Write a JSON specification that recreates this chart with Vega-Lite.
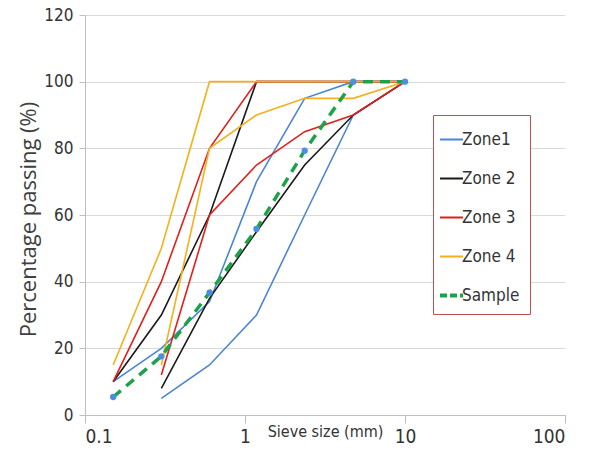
{
  "$schema": "https://vega.github.io/schema/vega-lite/v6.json",
  "width": 480,
  "height": 400,
  "autosize": {"type": "none"},
  "padding": {"left": 85, "top": 15, "right": 25, "bottom": 44},
  "background": "white",
  "config": {"view": {"stroke": null}},
  "data": {
    "values": [
      {"zone": "Zone1", "series": "Zone1 upper", "size": 0.15, "pass": 10},
      {"zone": "Zone1", "series": "Zone1 upper", "size": 0.3, "pass": 20},
      {"zone": "Zone1", "series": "Zone1 upper", "size": 0.6, "pass": 34},
      {"zone": "Zone1", "series": "Zone1 upper", "size": 1.18, "pass": 70},
      {"zone": "Zone1", "series": "Zone1 upper", "size": 2.36, "pass": 95},
      {"zone": "Zone1", "series": "Zone1 upper", "size": 4.75, "pass": 100},
      {"zone": "Zone1", "series": "Zone1 upper", "size": 10, "pass": 100},
      {"zone": "Zone1", "series": "Zone1 lower", "size": 0.3, "pass": 5},
      {"zone": "Zone1", "series": "Zone1 lower", "size": 0.6, "pass": 15},
      {"zone": "Zone1", "series": "Zone1 lower", "size": 1.18, "pass": 30},
      {"zone": "Zone1", "series": "Zone1 lower", "size": 2.36, "pass": 60},
      {"zone": "Zone1", "series": "Zone1 lower", "size": 4.75, "pass": 90},
      {"zone": "Zone1", "series": "Zone1 lower", "size": 10, "pass": 100},
      {"zone": "Zone 2", "series": "Zone 2 upper", "size": 0.15, "pass": 10},
      {"zone": "Zone 2", "series": "Zone 2 upper", "size": 0.3, "pass": 30},
      {"zone": "Zone 2", "series": "Zone 2 upper", "size": 0.6, "pass": 60},
      {"zone": "Zone 2", "series": "Zone 2 upper", "size": 1.18, "pass": 100},
      {"zone": "Zone 2", "series": "Zone 2 upper", "size": 2.36, "pass": 100},
      {"zone": "Zone 2", "series": "Zone 2 upper", "size": 4.75, "pass": 100},
      {"zone": "Zone 2", "series": "Zone 2 upper", "size": 10, "pass": 100},
      {"zone": "Zone 2", "series": "Zone 2 lower", "size": 0.3, "pass": 8},
      {"zone": "Zone 2", "series": "Zone 2 lower", "size": 0.6, "pass": 35},
      {"zone": "Zone 2", "series": "Zone 2 lower", "size": 1.18, "pass": 55},
      {"zone": "Zone 2", "series": "Zone 2 lower", "size": 2.36, "pass": 75},
      {"zone": "Zone 2", "series": "Zone 2 lower", "size": 4.75, "pass": 90},
      {"zone": "Zone 2", "series": "Zone 2 lower", "size": 10, "pass": 100},
      {"zone": "Zone 3", "series": "Zone 3 upper", "size": 0.15, "pass": 10},
      {"zone": "Zone 3", "series": "Zone 3 upper", "size": 0.3, "pass": 40},
      {"zone": "Zone 3", "series": "Zone 3 upper", "size": 0.6, "pass": 80},
      {"zone": "Zone 3", "series": "Zone 3 upper", "size": 1.18, "pass": 100},
      {"zone": "Zone 3", "series": "Zone 3 upper", "size": 2.36, "pass": 100},
      {"zone": "Zone 3", "series": "Zone 3 upper", "size": 4.75, "pass": 100},
      {"zone": "Zone 3", "series": "Zone 3 upper", "size": 10, "pass": 100},
      {"zone": "Zone 3", "series": "Zone 3 lower", "size": 0.3, "pass": 12},
      {"zone": "Zone 3", "series": "Zone 3 lower", "size": 0.6, "pass": 60},
      {"zone": "Zone 3", "series": "Zone 3 lower", "size": 1.18, "pass": 75},
      {"zone": "Zone 3", "series": "Zone 3 lower", "size": 2.36, "pass": 85},
      {"zone": "Zone 3", "series": "Zone 3 lower", "size": 4.75, "pass": 90},
      {"zone": "Zone 3", "series": "Zone 3 lower", "size": 10, "pass": 100},
      {"zone": "Zone 4", "series": "Zone 4 upper", "size": 0.15, "pass": 15},
      {"zone": "Zone 4", "series": "Zone 4 upper", "size": 0.3, "pass": 50},
      {"zone": "Zone 4", "series": "Zone 4 upper", "size": 0.6, "pass": 100},
      {"zone": "Zone 4", "series": "Zone 4 upper", "size": 1.18, "pass": 100},
      {"zone": "Zone 4", "series": "Zone 4 upper", "size": 2.36, "pass": 100},
      {"zone": "Zone 4", "series": "Zone 4 upper", "size": 4.75, "pass": 100},
      {"zone": "Zone 4", "series": "Zone 4 upper", "size": 10, "pass": 100},
      {"zone": "Zone 4", "series": "Zone 4 lower", "size": 0.3, "pass": 15},
      {"zone": "Zone 4", "series": "Zone 4 lower", "size": 0.6, "pass": 80},
      {"zone": "Zone 4", "series": "Zone 4 lower", "size": 1.18, "pass": 90},
      {"zone": "Zone 4", "series": "Zone 4 lower", "size": 2.36, "pass": 95},
      {"zone": "Zone 4", "series": "Zone 4 lower", "size": 4.75, "pass": 95},
      {"zone": "Zone 4", "series": "Zone 4 lower", "size": 10, "pass": 100},
      {"zone": "Sample", "series": "Sample", "size": 0.15, "pass": 5.4},
      {"zone": "Sample", "series": "Sample", "size": 0.3, "pass": 17.6},
      {"zone": "Sample", "series": "Sample", "size": 0.6, "pass": 36.7},
      {"zone": "Sample", "series": "Sample", "size": 1.18, "pass": 55.8},
      {"zone": "Sample", "series": "Sample", "size": 2.36, "pass": 79.3},
      {"zone": "Sample", "series": "Sample", "size": 4.75, "pass": 100},
      {"zone": "Sample", "series": "Sample", "size": 10, "pass": 100}
    ]
  },
  "encoding": {
    "x": {
      "field": "size",
      "type": "quantitative",
      "scale": {"type": "log", "domain": [0.1, 100]},
      "axis": {
        "values": [0.1, 1, 10, 100],
        "format": "~g",
        "grid": false,
        "domainColor": "#bfbfbf",
        "tickColor": "#bfbfbf",
        "tickSize": 8,
        "labelPadding": 4,
        "labelFont": "DejaVu Sans Condensed, sans-serif",
        "labelFontSize": 19,
        "labelColor": "#333333",
        "title": "Sieve size (mm)",
        "titleFont": "DejaVu Sans Condensed, sans-serif",
        "titleFontSize": 16,
        "titleFontWeight": "normal",
        "titleColor": "#333333",
        "titleBaseline": "top",
        "titleY": 8
      }
    },
    "y": {
      "field": "pass",
      "type": "quantitative",
      "scale": {"domain": [0, 120]},
      "axis": {
        "values": [0, 20, 40, 60, 80, 100, 120],
        "grid": true,
        "gridColor": "#d9d9d9",
        "domainColor": "#bfbfbf",
        "tickColor": "#bfbfbf",
        "tickSize": 6,
        "labelPadding": 6,
        "labelFont": "DejaVu Sans Condensed, sans-serif",
        "labelFontSize": 17,
        "labelColor": "#333333",
        "title": "Percentage passing (%)",
        "titleFont": "Open Sans, sans-serif",
        "titleFontSize": 22,
        "titleFontWeight": "normal",
        "titleColor": "#404040",
        "titleX": -57,
        "titleY": 204,
        "titleAlign": "center",
        "titleBaseline": "middle"
      }
    }
  },
  "layer": [
    {
      "transform": [{"filter": "datum.zone !== 'Sample'"}],
      "mark": {"type": "line", "strokeWidth": 1.6},
      "encoding": {
        "color": {
          "field": "zone",
          "type": "nominal",
          "scale": {
            "domain": ["Zone1", "Zone 2", "Zone 3", "Zone 4", "Sample"],
            "range": ["#4a86d4", "#1a1a1a", "#e0201b", "#f5b01b", "#1ca24a"]
          },
          "legend": {
            "title": " ",
            "titleFontSize": 2,
            "titlePadding": 4,
            "orient": "none",
            "legendX": 348,
            "legendY": 100,
            "padding": 10,
            "rowPadding": 21,
            "symbolType": "stroke",
            "symbolSize": 529,
            "symbolStrokeWidth": 2,
            "labelOffset": 2,
            "labelFont": "DejaVu Sans Condensed, sans-serif",
            "labelFontSize": 17,
            "labelColor": "#333333",
            "strokeColor": "#c0504d",
            "fillColor": "white",
            "encode": {
              "symbols": {
                "update": {
                  "strokeDash": {"signal": "datum.label === 'Sample' ? [7, 3] : [1, 0]"},
                  "strokeWidth": {"signal": "datum.label === 'Sample' ? 4 : 2"}
                }
              }
            }
          }
        },
        "detail": {"field": "series"},
        "order": {"field": "size"}
      }
    },
    {
      "transform": [{"filter": "datum.zone === 'Sample'"}],
      "mark": {"type": "line", "strokeWidth": 3.5, "strokeDash": [10, 7]},
      "encoding": {
        "color": {"field": "zone", "type": "nominal"},
        "order": {"field": "size"}
      }
    },
    {
      "transform": [{"filter": "datum.zone === 'Sample'"}],
      "mark": {"type": "point", "filled": true, "color": "#4a90e2", "size": 40, "opacity": 1}
    }
  ]
}
